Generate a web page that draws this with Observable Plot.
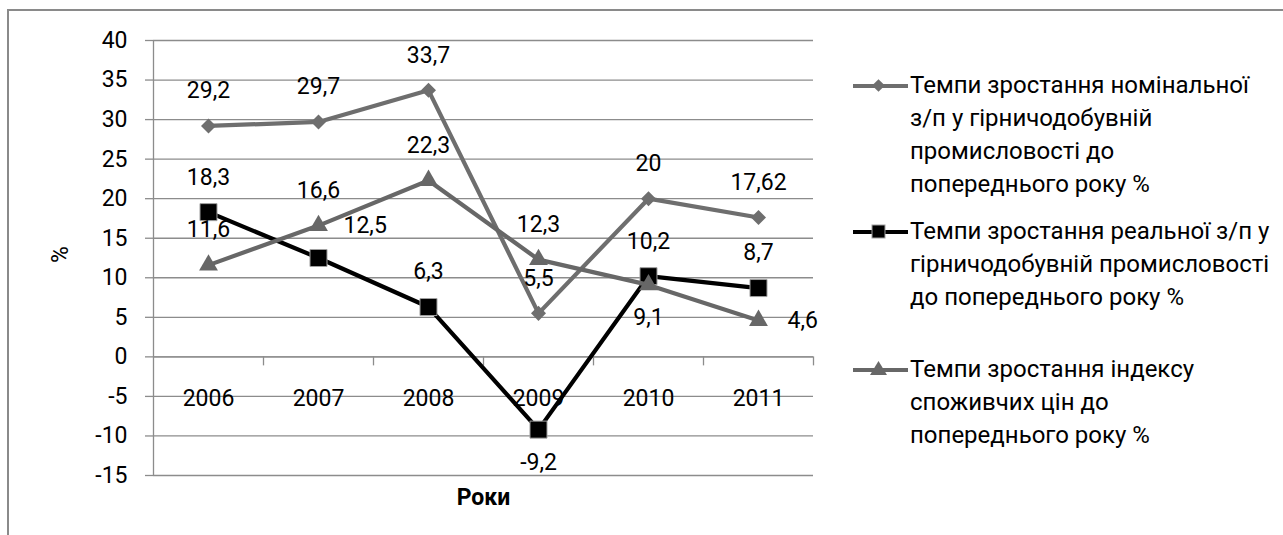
<!DOCTYPE html>
<html>
<head>
<meta charset="utf-8">
<script src="https://cdn.jsdelivr.net/npm/d3@7"></script>
<script src="https://cdn.jsdelivr.net/npm/@observablehq/plot@0.6"></script>
<style>
  body { margin: 0; background: #fff; }
  #wrap { position: relative; width: 1283px; height: 535px; overflow: hidden; font-family: Roboto, "Noto Sans", sans-serif; }
  #frame { position: absolute; left: 7px; top: 9px; width: 1300px; height: 560px; border-top: 2px solid #8a8a8a; border-left: 2px solid #8a8a8a; box-sizing: border-box; }
  #chart { position: absolute; left: 0; top: 0; }
  .leg { position: absolute; left: 852px; }
  .leg svg { position: absolute; left: 0; top: 0; }
  .leg div { position: absolute; left: 58px; top: 0; width: 420px; font-size: 24px; line-height: 33px; color: #000; white-space: nowrap; }
</style>
</head>
<body>
<div id="wrap">
  <div id="frame"></div>
  <div id="chart"></div>
  <div id="legend"></div>
</div>
<script>
// ---- data ----
const years = ["2006", "2007", "2008", "2009", "2010", "2011"];
const seriesNames = [
  "Темпи зростання номінальної з/п у гірничодобувній промисловості до попереднього року %",
  "Темпи зростання реальної з/п у гірничодобувній промисловості до попереднього року %",
  "Темпи зростання індексу споживчих цін до попереднього року %"
];
const legendLines = [
  ["Темпи зростання номінальної", "з/п у гірничодобувній", "промисловості до", "попереднього року %"],
  ["Темпи зростання реальної з/п у", "гірничодобувній промисловості", "до попереднього року %"],
  ["Темпи зростання індексу", "споживчих цін до", "попереднього року %"]
];
const nominal = [29.2, 29.7, 33.7, 5.5, 20, 17.62];
const real = [18.3, 12.5, 6.3, -9.2, 10.2, 8.7];
const cpi = [11.6, 16.6, 22.3, 12.3, 9.1, 4.6];
const nominalPos = ["above", "above", "above", "above", "above", "above"];
const realPos = ["above", "aboveRight", "above", "below", "above", "above"];
const cpiPos = ["above", "above", "above", "above", "below", "right"];
const yTicks = [-15, -10, -5, 0, 5, 10, 15, 20, 25, 30, 35, 40];
const yLabel = "%";
const xLabel = "Роки";

// ---- styles ----
const colors = ["#6e6e6e", "#000000", "#676767"];
const FS = 23;

const fmt = v => String(v).replace(".", ",");
const rows = [];
[nominal, real, cpi].forEach((arr, s) => {
  const pos = [nominalPos, realPos, cpiPos][s];
  arr.forEach((v, i) => rows.push({ s, i, x: i + 0.5, year: years[i], value: v, label: fmt(v), pos: pos[i] }));
});
const bySeries = s => rows.filter(d => d.s === s);
const posDx = { above: 0, below: 0, right: 29, aboveRight: 25 };
const posDy = { above: -35, below: 33, right: 0, aboveRight: -32 };

const gridColor = "#8c8c8c";

function seriesMarks(s) {
  const data = bySeries(s);
  const marks = [
    Plot.line(data, { x: "x", y: "value", stroke: colors[s], strokeWidth: 4.2, strokeLinejoin: "miter" })
  ];
  if (s === 0) {
    marks.push(Plot.dot(data, { x: "x", y: "value", symbol: "square", r: 6, rotate: 45, fill: colors[s], stroke: "none" }));
  } else if (s === 1) {
    marks.push(Plot.dot(data, { x: "x", y: "value", symbol: "square", r: 9.6, fill: "#000", stroke: "#a0a0a0", strokeWidth: 1 }));
  } else {
    marks.push(Plot.dot(data, { x: "x", y: "value", symbol: "triangle", r: 7, fill: colors[s], stroke: "none" }));
  }
  return marks;
}

function labelMarks(s) {
  const data = bySeries(s);
  const groups = {};
  data.forEach(d => { (groups[d.pos] = groups[d.pos] || []).push(d); });
  return Object.entries(groups).map(([pos, ds]) => Plot.text(ds, {
    x: "x", y: "value", text: "label",
    textAnchor: (pos === "right" || pos === "aboveRight") ? "start" : "middle",
    dx: posDx[pos], dy: posDy[pos], fill: "#000", fontSize: FS
  }));
}

const chart = Plot.plot({
  width: 1283,
  height: 535,
  marginLeft: 153,
  marginRight: 470,
  marginTop: 40,
  marginBottom: 60,
  style: { fontFamily: "Roboto, 'Noto Sans', sans-serif", fontSize: FS + "px", color: "#000", background: "transparent", overflow: "visible" },
  x: { type: "linear", domain: [0, 6], axis: null },
  y: { type: "linear", domain: [-15, 40], axis: null },
  marks: [
    Plot.gridY(yTicks, { stroke: gridColor, strokeOpacity: 1, strokeWidth: 1.3 }),
    Plot.axisY(yTicks, { tickSize: 8, tickPadding: 18, stroke: gridColor, strokeWidth: 1.3, fill: "#000", fontSize: FS, label: null, tickFormat: d => String(d) }),
    Plot.ruleX([0], { y1: -15, y2: 40, stroke: gridColor, strokeWidth: 1.3 }),
    Plot.ruleY([0], { x1: 0, x2: 6, stroke: gridColor, strokeWidth: 1.3 }),
    Plot.ruleX([1, 2, 3, 4, 5, 6], { y1: 0, y2: 0, insetBottom: -9, stroke: gridColor, strokeWidth: 1.3 }),
    Plot.text(years, { x: (d, i) => i + 0.5, y: () => 0, dy: 42, text: d => d, fill: "#000", fontSize: FS }),
    Plot.text([yLabel], { frameAnchor: "left", dx: -93, dy: 5, rotate: -90, fill: "#000", fontSize: FS }),
    Plot.text([xLabel], { frameAnchor: "bottom", lineAnchor: "middle", dy: 22, fill: "#000", fontSize: FS, fontWeight: "bold" }),
    ...seriesMarks(0),
    ...seriesMarks(1),
    ...seriesMarks(2),
    ...labelMarks(0),
    ...labelMarks(1),
    ...labelMarks(2)
  ]
});
document.getElementById("chart").appendChild(chart);

// ---- legend ----
const legendTops = [69, 215, 353];
const legend = document.getElementById("legend");
legendLines.forEach((lines, s) => {
  const item = document.createElement("div");
  item.className = "leg";
  item.style.top = legendTops[s] + "px";
  item.title = seriesNames[s];
  let sym;
  if (s === 0) sym = `<rect x="22" y="12" width="9" height="9" transform="rotate(45 26.5 16.5)" fill="${colors[0]}"/>`;
  else if (s === 1) sym = `<rect x="20" y="10" width="13" height="13" fill="#000" stroke="#a0a0a0" stroke-width="1"/>`;
  else sym = `<path d="M26.5 8 L35 22 L18 22 Z" fill="${colors[2]}"/>`;
  item.innerHTML = `<svg width="60" height="34"><line x1="1" x2="56" y1="17" y2="17" stroke="${colors[s]}" stroke-width="4"/>${sym}</svg><div>${lines.join("<br>")}</div>`;
  legend.appendChild(item);
});
</script>
</body>
</html>
